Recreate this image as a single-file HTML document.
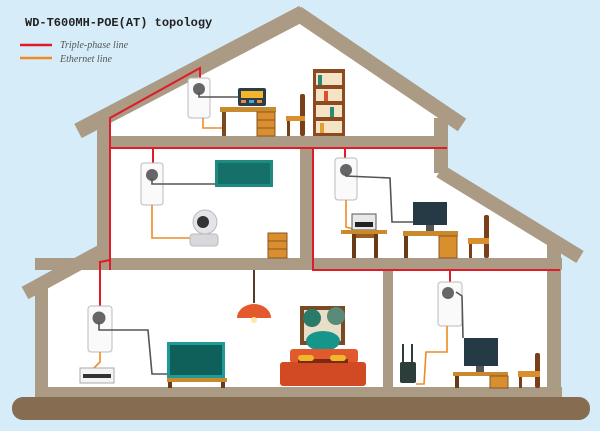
<!DOCTYPE html>
<html><head><meta charset="utf-8"><style>
html,body{margin:0;padding:0;background:#d6ecf8;}
svg{display:block}
</style></head><body>
<svg width="600" height="431" viewBox="0 0 600 431" xmlns="http://www.w3.org/2000/svg">
<rect width="600" height="431" fill="#d6ecf8"/>
<!-- title & legend -->
<text x="25" y="26" font-family="Liberation Mono, monospace" font-size="12" font-weight="bold" fill="#222">WD-T600MH-POE(AT) topology</text>
<line x1="20" y1="45" x2="52" y2="45" stroke="#e01b2a" stroke-width="2.5"/>
<line x1="20" y1="58" x2="52" y2="58" stroke="#ef8a25" stroke-width="2.5"/>
<text x="60" y="48" font-family="Liberation Serif, serif" font-style="italic" font-size="10" fill="#555">Triple-phase line</text>
<text x="60" y="62" font-family="Liberation Serif, serif" font-style="italic" font-size="10" fill="#555">Ethernet line</text>

<!-- white interiors -->
<polygon points="97,130 300,22 440,118 440,176 560,250 560,262 97,262" fill="#fff"/>
<polygon points="40,290 85,266 560,266 560,392 40,392" fill="#fff"/>

<g fill="#ab9a84" stroke="none">
  <rect x="97" y="136" width="351" height="11"/>
  <rect x="97" y="118" width="13" height="152"/>
  <rect x="434" y="118" width="14" height="55"/>
  <rect x="300" y="147" width="13" height="113"/>
  <rect x="35" y="258" width="527" height="12"/>
  <rect x="35" y="280" width="13" height="120"/>
  <rect x="547" y="245" width="14" height="155"/>
  <rect x="383" y="270" width="10" height="120"/>
  <rect x="35" y="387" width="527" height="12"/>
</g>
<g stroke="#ab9a84" fill="none" stroke-linecap="butt">
  <line x1="78" y1="131" x2="303" y2="13" stroke-width="16"/>
  <line x1="297" y1="13" x2="462" y2="125" stroke-width="15"/>
  <line x1="440" y1="171" x2="580" y2="257" stroke-width="14"/>
  <line x1="25" y1="293" x2="100" y2="252" stroke-width="14"/>
</g>
<rect x="12" y="397" width="578" height="23" rx="11" fill="#866c50"/>

<!-- red lines -->
<g stroke="#e01b2a" stroke-width="2" fill="none">
  <polyline points="200,78 200,68 110,118 110,270"/>
  <polyline points="110,148 447,148"/>
  <line x1="153" y1="148" x2="153" y2="163"/>
  <line x1="345" y1="148" x2="345" y2="158"/>
  <polyline points="313,148 313,270 560,270"/>
  <polyline points="110,260 100,262 100,306"/>
  <line x1="450" y1="270" x2="450" y2="282"/>
</g>

<!-- adapters -->
<g>
  <rect x="188" y="78" width="22" height="40" rx="3" fill="#fafafa" stroke="#bbb"/>
  <circle cx="199" cy="89" r="6" fill="#666"/>
  <rect x="141" y="163" width="22" height="42" rx="3" fill="#fafafa" stroke="#bbb"/>
  <circle cx="152" cy="175" r="6" fill="#666"/>
  <rect x="335" y="158" width="22" height="42" rx="3" fill="#fafafa" stroke="#bbb"/>
  <circle cx="346" cy="170" r="6" fill="#666"/>
  <rect x="88" y="306" width="24" height="46" rx="3" fill="#fafafa" stroke="#bbb"/>
  <circle cx="99" cy="318" r="6.5" fill="#666"/>
  <rect x="438" y="282" width="24" height="44" rx="3" fill="#fafafa" stroke="#bbb"/>
  <circle cx="448" cy="293" r="6" fill="#666"/>
</g>

<!-- cables -->
<g fill="none" stroke-width="1.6">
  <polyline points="199,92 199,97 240,97" stroke="#555"/>
  <polyline points="203,118 203,128 222,128" stroke="#ef8a25"/>
  <polyline points="152,178 152,184 215,184" stroke="#555"/>
  <polyline points="152,205 152,238 190,238" stroke="#ef8a25"/>
  <polyline points="346,173 346,176 390,178 392,222 413,222" stroke="#555"/>
  <polyline points="346,200 346,227 353,229" stroke="#ef8a25"/>
  <polyline points="99,322 99,330 148,330 152,374 167,374" stroke="#555"/>
  <polyline points="100,352 100,362 92,370" stroke="#ef8a25"/>
  <polyline points="456,292 462,296 463,338" stroke="#555"/>
  <polyline points="447,326 447,352 426,352 424,384 416,384" stroke="#ef8a25"/>
</g>

<!-- attic furniture -->
<rect x="238" y="88" width="28" height="18" rx="2" fill="#2c3e4a"/>
<rect x="241" y="91" width="22" height="7" fill="#f2b62b"/>
<rect x="241" y="100" width="5" height="3" fill="#e84"/><rect x="249" y="100" width="5" height="3" fill="#4ad"/><rect x="257" y="100" width="5" height="3" fill="#e84"/>
<rect x="220" y="107" width="56" height="5" fill="#c98a2e"/>
<rect x="222" y="112" width="4" height="24" fill="#7a4a1e"/>
<rect x="257" y="112" width="18" height="24" fill="#d98f2e" stroke="#8a5420" stroke-width="1"/>
<line x1="257" y1="120" x2="275" y2="120" stroke="#8a5420"/><line x1="257" y1="128" x2="275" y2="128" stroke="#8a5420"/>
<rect x="300" y="94" width="5" height="42" rx="2" fill="#7a3f1a"/>
<rect x="286" y="116" width="19" height="5" fill="#d98f2e"/>
<rect x="287" y="121" width="3" height="15" fill="#7a3f1a"/>
<rect x="313" y="69" width="32" height="67" fill="#8b4a1f"/>
<rect x="316" y="73" width="26" height="12" fill="#f5e3c5"/><rect x="316" y="89" width="26" height="12" fill="#f5e3c5"/><rect x="316" y="105" width="26" height="12" fill="#f5e3c5"/><rect x="316" y="121" width="26" height="12" fill="#f5e3c5"/>
<rect x="318" y="75" width="4" height="10" fill="#2a8a7a"/><rect x="324" y="91" width="4" height="10" fill="#d9502a"/><rect x="330" y="107" width="4" height="10" fill="#2a8a7a"/><rect x="320" y="123" width="4" height="10" fill="#e0a030"/>

<!-- second floor left -->
<rect x="215" y="160" width="58" height="27" fill="#1f8a82"/>
<rect x="218" y="163" width="52" height="21" fill="#16706a"/>
<circle cx="205" cy="222" r="12" fill="#e4e4e8" stroke="#bbb"/>
<circle cx="203" cy="222" r="6" fill="#333"/>
<rect x="190" y="234" width="28" height="12" rx="3" fill="#d8d8dc" stroke="#bbb"/>
<rect x="268" y="233" width="19" height="25" fill="#d98f2e" stroke="#8a5420"/>
<line x1="268" y1="241" x2="287" y2="241" stroke="#8a5420"/><line x1="268" y1="249" x2="287" y2="249" stroke="#8a5420"/>

<!-- second floor right -->
<rect x="352" y="214" width="24" height="16" fill="#e8e8e8" stroke="#555"/>
<rect x="355" y="222" width="18" height="5" fill="#222"/>
<rect x="341" y="230" width="46" height="4" fill="#c98a2e"/>
<rect x="352" y="234" width="26" height="4" fill="#9a5e22"/>
<rect x="352" y="234" width="4" height="24" fill="#6a3a16"/><rect x="374" y="234" width="4" height="24" fill="#6a3a16"/>
<rect x="413" y="202" width="34" height="23" fill="#253a45"/>
<rect x="426" y="225" width="8" height="6" fill="#555"/>
<rect x="403" y="231" width="55" height="5" fill="#c98a2e"/>
<rect x="404" y="236" width="4" height="22" fill="#6a3a16"/>
<rect x="439" y="236" width="18" height="22" fill="#d98f2e" stroke="#8a5420"/>
<rect x="484" y="215" width="5" height="43" rx="2" fill="#7a3f1a"/>
<rect x="468" y="238" width="21" height="6" fill="#d98f2e"/>
<rect x="469" y="244" width="3" height="14" fill="#7a3f1a"/>

<!-- lower left -->
<rect x="80" y="368" width="34" height="15" fill="#f4f4f4" stroke="#aaa"/>
<rect x="83" y="374" width="28" height="4" fill="#333"/>
<rect x="167" y="342" width="58" height="36" fill="#1f9a96"/>
<rect x="170" y="345" width="52" height="30" fill="#0f5f5a"/>
<rect x="167" y="378" width="60" height="4" fill="#c98a2e"/>
<rect x="168" y="382" width="4" height="6" fill="#6a3a16"/><rect x="221" y="382" width="4" height="6" fill="#6a3a16"/>
<line x1="254" y1="270" x2="254" y2="303" stroke="#5a3a22" stroke-width="2"/>
<path d="M237,318 A17,14 0 0 1 271,318 Z" fill="#e45a2c"/>
<circle cx="254" cy="320" r="3" fill="#ffe9a0"/>
<rect x="300" y="306" width="45" height="39" fill="#7a4a24"/>
<rect x="304" y="310" width="37" height="31" fill="#e9dfc8"/>
<circle cx="312" cy="318" r="9" fill="#2a7a6a"/><circle cx="336" cy="316" r="9" fill="#5a8a78"/>
<ellipse cx="323" cy="341" rx="17" ry="10" fill="#17958a"/>
<rect x="290" y="349" width="68" height="14" rx="3" fill="#e05a2e"/>
<rect x="280" y="362" width="86" height="24" rx="3" fill="#d24a24"/>
<rect x="298" y="359" width="50" height="4" fill="#7a2a14"/>
<rect x="298" y="355" width="16" height="6" rx="3" fill="#f2b62b"/><rect x="330" y="355" width="16" height="6" rx="3" fill="#f2b62b"/>

<!-- lower right -->
<rect x="464" y="338" width="34" height="28" fill="#253a45"/>
<rect x="476" y="366" width="8" height="6" fill="#555"/>
<rect x="453" y="372" width="55" height="4" fill="#c98a2e"/>
<rect x="455" y="376" width="4" height="12" fill="#6a3a16"/>
<rect x="490" y="376" width="18" height="12" fill="#d98f2e" stroke="#8a5420"/>
<rect x="535" y="353" width="5" height="35" rx="2" fill="#7a3f1a"/>
<rect x="518" y="371" width="22" height="6" fill="#d98f2e"/>
<rect x="519" y="377" width="3" height="11" fill="#7a3f1a"/>
<rect x="400" y="362" width="16" height="21" rx="2" fill="#2d3d3a"/>
<line x1="403" y1="362" x2="403" y2="344" stroke="#2d3d3a" stroke-width="2"/>
<line x1="412" y1="362" x2="412" y2="344" stroke="#2d3d3a" stroke-width="2"/>
</svg>
</body></html>
